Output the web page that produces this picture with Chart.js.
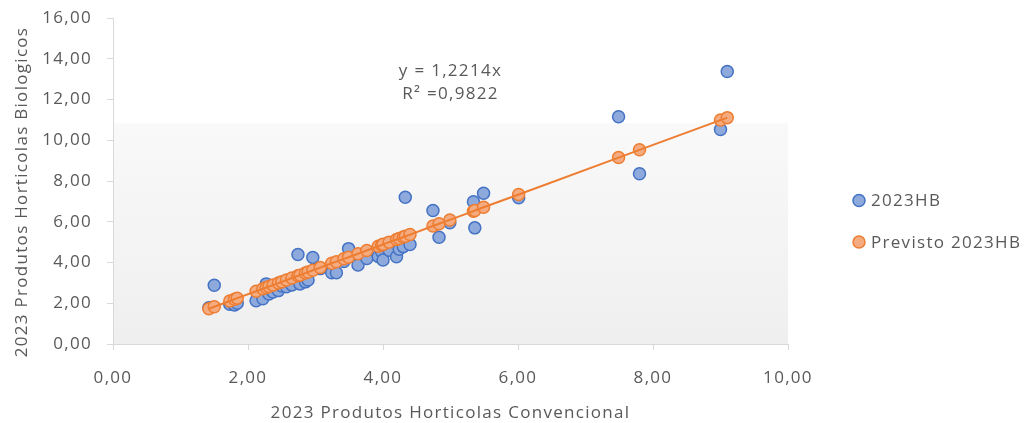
<!DOCTYPE html>
<html><head><meta charset="utf-8">
<script src="https://cdn.jsdelivr.net/npm/chart.js@4.4.1/dist/chart.umd.min.js"></script>
<style>html,body{margin:0;padding:0;background:#fff;}canvas{display:block;}</style>
</head><body>
<canvas id="c" width="1032" height="423"></canvas>
<script>
// ---- data ----
const xConvencional = [1.42,1.50,1.73,1.80,1.84,2.12,2.22,2.27,2.31,2.37,2.45,2.50,2.57,2.65,2.74,2.77,2.85,2.89,2.96,3.07,3.24,3.31,3.42,3.49,3.63,3.76,3.93,3.98,4.00,4.09,4.20,4.24,4.30,4.33,4.40,4.74,4.83,4.99,5.34,5.36,5.49,6.01,7.49,7.80,9.00,9.10];
const yBiologicos   = [1.78,2.88,1.95,1.92,2.00,2.12,2.22,2.95,2.45,2.55,2.62,2.85,2.81,2.90,4.39,2.95,3.05,3.14,4.25,3.70,3.50,3.50,4.05,4.68,3.88,4.20,4.30,4.53,4.12,4.60,4.28,4.65,4.78,7.20,4.88,6.55,5.24,5.95,6.98,5.70,7.40,7.18,11.15,8.36,10.53,13.37];
const yPrevisto     = [1.73,1.83,2.11,2.20,2.25,2.59,2.71,2.77,2.82,2.89,2.99,3.05,3.14,3.24,3.35,3.38,3.48,3.53,3.62,3.75,3.96,4.04,4.18,4.26,4.43,4.59,4.80,4.86,4.89,5.00,5.13,5.18,5.25,5.29,5.37,5.79,5.90,6.09,6.52,6.55,6.71,7.34,9.15,9.53,10.99,11.11];
const xTickLabels = ['0,00','2,00','4,00','6,00','8,00','10,00'];
const yTickLabels = ['0,00','2,00','4,00','6,00','8,00','10,00','12,00','14,00','16,00'];
const seriesNames = ['2023HB','Previsto 2023HB'];
const trendText = ['y = 1,2214x','R\u00B2 =0,9822'];
const xTitle = '2023 Produtos Horticolas Convencional';
const yTitle = '2023 Produtos Horticolas Biologicos';

// ---- styling ----
const TXT = '#595959';
const FONT = 'Open Sans';
const BLUE_FILL = '#8eaadc', BLUE_LINE = '#4472c4';
const OR_FILL = '#f4ab80', OR_LINE = '#ed7d31';
Chart.defaults.font.family = FONT;
Chart.defaults.color = TXT;

const SPACING = '1.3px';
const spacingPlugin = {
  id: 'spacing',
  beforeUpdate(c){ c.ctx.letterSpacing = SPACING; },
  beforeLayout(c){ c.ctx.letterSpacing = SPACING; },
  beforeDraw(c){ c.ctx.letterSpacing = SPACING; }
};

const bgPlugin = {
  id: 'bg',
  beforeDraw(c){
    const {ctx, chartArea:a} = c;
    const g = ctx.createLinearGradient(0, a.top, 0, a.bottom);
    g.addColorStop(0, '#ffffff');
    g.addColorStop(0.32, '#ffffff');
    g.addColorStop(0.325, '#f9f9f9');
    g.addColorStop(1, '#efefef');
    ctx.save();
    ctx.fillStyle = g;
    ctx.fillRect(a.left, a.top, a.right - a.left, a.bottom - a.top);
    ctx.restore();
  }
};

const annotPlugin = {
  id: 'annot',
  afterDraw(c){
    const {ctx, chartArea:a, scales} = c;
    ctx.save();
    ctx.letterSpacing = SPACING;
    ctx.fillStyle = TXT;
    ctx.font = '17px "' + FONT + '"';
    ctx.textAlign = 'center';
    ctx.textBaseline = 'middle';
    // trendline equation
    const tx = scales.x.getPixelForValue(5.0);
    ctx.fillText(trendText[0], tx, scales.y.getPixelForValue(13.40));
    ctx.fillText(trendText[1], tx, scales.y.getPixelForValue(12.25));
    // y axis title
    ctx.save();
    ctx.translate(22, 192);
    ctx.rotate(-Math.PI / 2);
    ctx.fillText(yTitle, 0, 0);
    ctx.restore();
    // legend
    const lx = a.right + 71;
    const rows = [[200.5, BLUE_FILL, BLUE_LINE], [242, OR_FILL, OR_LINE]];
    ctx.textAlign = 'left';
    rows.forEach((r, i) => {
      ctx.beginPath();
      ctx.arc(lx, r[0], 6, 0, Math.PI * 2);
      ctx.fillStyle = r[1];
      ctx.fill();
      ctx.lineWidth = 1.5;
      ctx.strokeStyle = r[2];
      ctx.stroke();
      ctx.fillStyle = TXT;
      ctx.fillText(seriesNames[i], lx + 12, r[0] + 1);
    });
    ctx.restore();
  }
};

const blueData = xConvencional.map((x, i) => ({x, y: yBiologicos[i]}));
const orangeData = xConvencional.map((x, i) => ({x, y: yPrevisto[i]}));

new Chart(document.getElementById('c'), {
  type: 'scatter',
  data: {
    datasets: [
      { label: seriesNames[1] + ' line', data: orangeData, showLine: true, pointRadius: 0,
        borderColor: OR_LINE, borderWidth: 2, order: 1 },
      { label: seriesNames[1], data: orangeData, pointRadius: 6, pointBackgroundColor: OR_FILL,
        backgroundColor: OR_FILL, borderColor: OR_LINE, pointBorderColor: OR_LINE, pointBorderWidth: 1.5, order: 2 },
      { label: seriesNames[0], data: blueData, pointRadius: 6, pointBackgroundColor: BLUE_FILL,
        backgroundColor: BLUE_FILL, borderColor: BLUE_LINE, pointBorderColor: BLUE_LINE, pointBorderWidth: 1.5, order: 3 }
    ]
  },
  options: {
    responsive: false,
    devicePixelRatio: 1,
    animation: false,
    layout: { padding: { top: 18, right: 244, left: 0, bottom: 0 } },
    plugins: { legend: { display: false }, tooltip: { enabled: false } },
    scales: {
      x: {
        type: 'linear', min: 0, max: 10,
        ticks: { stepSize: 2, color: TXT, font: { size: 17 }, padding: 18,
          callback: (v, i) => xTickLabels[i] },
        grid: { drawOnChartArea: false, drawTicks: true, tickLength: 6, color: '#d9d9d9' },
        border: { color: '#d9d9d9', width: 1 },
        title: { display: true, text: xTitle, color: TXT, font: { size: 17 }, padding: { top: 3, bottom: 0 } },
        afterFit: s => { s.height = 79; s.paddingLeft = 0; s.paddingRight = 0; }
      },
      y: {
        type: 'linear', min: 0, max: 16,
        ticks: { stepSize: 2, color: TXT, font: { size: 17 }, padding: 15,
          callback: (v, i) => yTickLabels[i] },
        grid: { drawOnChartArea: false, drawTicks: true, tickLength: 6, color: '#d9d9d9' },
        border: { color: '#d9d9d9', width: 1 },
        title: { display: false, text: yTitle },
        afterFit: s => { s.width = 113; s.paddingTop = 0; s.paddingBottom = 0; }
      }
    }
  },
  plugins: [spacingPlugin, bgPlugin, annotPlugin]
});
</script>
</body></html>
